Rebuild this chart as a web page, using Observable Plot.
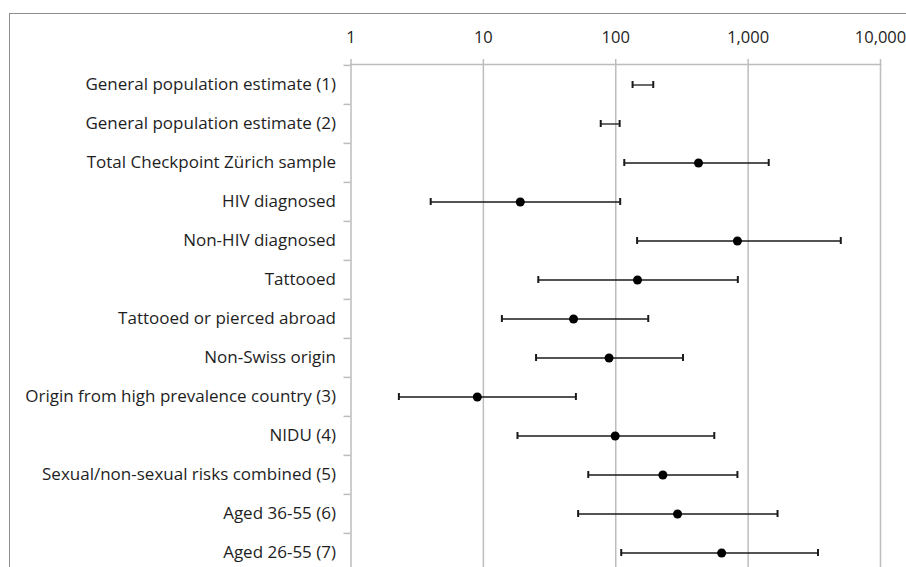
<!DOCTYPE html>
<html><head><meta charset="utf-8">
<script src="https://cdn.jsdelivr.net/npm/d3@7"></script>
<script src="https://cdn.jsdelivr.net/npm/@observablehq/plot@0.6"></script>
<style>
html,body{margin:0;padding:0;background:#fff;overflow:hidden;width:906px;height:567px;}
#frame{position:absolute;left:9px;top:13px;width:906px;height:600px;border-left:1.5px solid #8c8c8c;border-top:1.5px solid #8c8c8c;}
#chart{position:absolute;left:0;top:0;}
</style></head><body><div id="frame"></div><div id="chart"></div>
<script>
const categories = [
  "General population estimate (1)",
  "General population estimate (2)",
  "Total Checkpoint Zürich sample",
  "HIV diagnosed",
  "Non-HIV diagnosed",
  "Tattooed",
  "Tattooed or pierced abroad",
  "Non-Swiss origin",
  "Origin from high prevalence country (3)",
  "NIDU (4)",
  "Sexual/non-sexual risks combined (5)",
  "Aged 36-55 (6)",
  "Aged 26-55 (7)"
];
const lower    = [134, 77, 116, 4.0, 145, 26, 13.8, 25, 2.3, 18.1, 62, 52, 110];
const estimate = [null, null, 422, 19, 830, 146, 48, 89, 9.0, 99, 227, 293, 631];
const upper    = [192, 107, 1431, 108, 5012, 836, 176, 322, 50, 555, 830, 1668, 3370];
const xTicks = [1, 10, 100, 1000, 10000];

const data = categories.map((name, i) => ({name, lo: lower[i], est: estimate[i], hi: upper[i]}));

const bandTop = 63.7, bandStep = 39.2;
const ink = "#1a1a1a", grid = "#bdbdbd", txt = "#1e1e1e";

const plot = Plot.plot({
  width: 906, height: 567,
  marginTop: 64, marginLeft: 350.5, marginRight: 26, marginBottom: 0,
  style: {fontFamily: "'Open Sans', sans-serif", fontSize: "16px", color: txt, background: "transparent"},
  x: {type: "log", domain: [1, 10000], range: [350.5, 880], label: null},
  y: {domain: categories, range: [bandTop, bandTop + categories.length * bandStep], padding: 0, label: null},
  marks: [
    Plot.ruleX(xTicks, {stroke: grid, strokeWidth: 1.5}),
    Plot.frame({anchor: "top", stroke: grid, strokeWidth: 1.5}),
    Plot.axisX(xTicks, {anchor: "top", tickSize: 6, tickPadding: 16, tickFormat: d3.format(","), stroke: grid, strokeWidth: 1.5, fill: txt, fontSize: 16.5, label: null}),
    Plot.axisY({tickSize: 0, tickPadding: 15, fill: txt, fontSize: 17, label: null}),
    Plot.axisY({tickSize: 7, tickFormat: () => "", dy: -bandStep / 2, stroke: grid, strokeWidth: 1.5, label: null}),
    Plot.ruleY(data, {y: "name", x1: "lo", x2: "hi", stroke: ink, strokeWidth: 1.3}),
    Plot.tickX(data, {x: "lo", y: "name", insetTop: 16, insetBottom: 16, stroke: ink, strokeWidth: 2}),
    Plot.tickX(data, {x: "hi", y: "name", insetTop: 16, insetBottom: 16, stroke: ink, strokeWidth: 2}),
    Plot.dot(data.filter(d => d.est != null), {x: "est", y: "name", r: 4.5, fill: "#000", stroke: null})
  ]
});
document.getElementById("chart").appendChild(plot);
</script>
</body></html>
